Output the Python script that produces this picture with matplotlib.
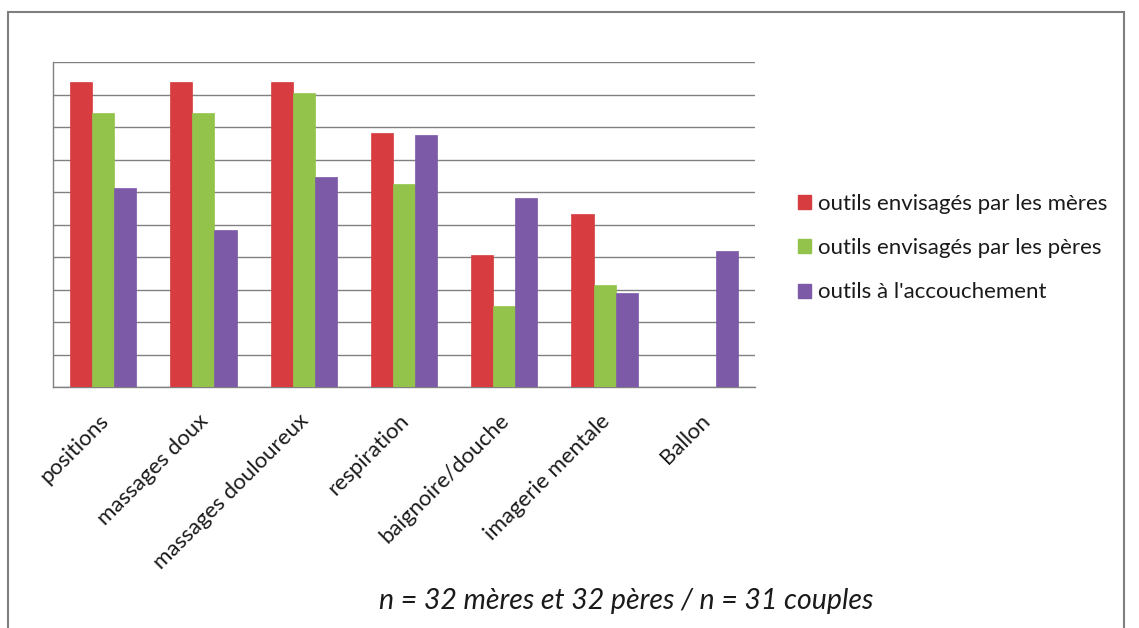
import numpy as np
import matplotlib
matplotlib.use("Agg")
import matplotlib.pyplot as plt
from matplotlib.patches import Rectangle, Patch

categories = ["positions", "massages doux", "massages douloureux", "respiration",
              "baignoire/douche", "imagerie mentale", "Ballon"]
series_names = ["outils envisagés par les mères",
                "outils envisagés par les pères",
                "outils à l'accouchement"]
meres = [93.8, 93.8, 93.8, 78.1, 40.6, 53.1, 0]
peres = [84.4, 84.4, 90.6, 62.5, 25.0, 31.3, 0]
accouchement = [61.3, 48.4, 64.5, 77.4, 58.1, 29.0, 41.9]
colors = ["#d63c40", "#93c34b", "#7c5aa8"]

plt.rcParams["font.family"] = ["Lato", "DejaVu Sans"]

W, H = 1139, 628
fig = plt.figure(figsize=(W / 100, H / 100), dpi=100)
fig.patch.set_facecolor("white")

# outer frame
fig.patches.append(Rectangle((8 / W, -0.02), (1124 - 8) / W, 1 - 12 / H + 0.02,
                             transform=fig.transFigure, fill=False,
                             edgecolor="#7f7f7f", linewidth=1.5))

ax = fig.add_axes([53 / W, 1 - 387 / H, 702 / W, 325 / H])
x = np.arange(len(categories))
bw = 0.22
for i, (vals, c) in enumerate(zip([meres, peres, accouchement], colors)):
    ax.bar(x + (i - 1) * bw, vals, bw, color=c, edgecolor=c, linewidth=0.5,
           zorder=3, label=series_names[i])

ax.set_xlim(-0.5, len(categories) - 0.5)
ax.set_ylim(0, 100)
ax.set_yticks(np.arange(0, 101, 10))
ax.set_yticklabels([])
ax.tick_params(axis="y", length=0)
ax.tick_params(axis="x", length=0, pad=22)
ax.grid(axis="y", color="#808080", linewidth=1, zorder=0)
for s in ["top", "right"]:
    ax.spines[s].set_visible(False)
for s in ["left", "bottom"]:
    ax.spines[s].set_color("#808080")
    ax.spines[s].set_linewidth(1)

ax.set_xticks(x + 0.02)
ax.set_xticklabels(categories, rotation=45, ha="right", va="center",
                   rotation_mode="anchor", fontsize=16, color="#1a1a1a")

handles = [Patch(facecolor=c, edgecolor=c) for c in colors]
fig.legend(handles, series_names, loc="center left",
           bbox_to_anchor=(778 / W, 1 - 248 / H), frameon=False,
           fontsize=16, handlelength=0.6, handleheight=0.6,
           handletextpad=0.3, labelspacing=1.1, labelcolor="#1a1a1a")

fig.text(626 / W, 1 - 601 / H, "n = 32 mères et 32 pères / n = 31 couples",
         ha="center", va="center", fontsize=20.5, style="italic", color="#1a1a1a")

fig.savefig("out.png", dpi=100)
